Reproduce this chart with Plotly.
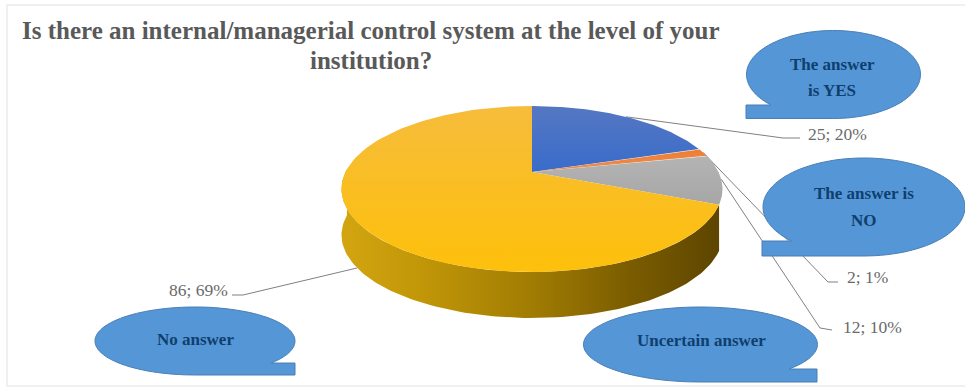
import numpy as np
import plotly.graph_objects as go

# Survey answers
categories = ["The answer is YES", "The answer is NO", "Uncertain answer", "No answer"]
counts = [25, 2, 12, 86]
point_labels = ["25; 20%", "2; 1%", "12; 10%", "86; 69%"]
title_lines = ["Is there an internal/managerial control system at the level of your", "institution?"]

TEXT_GREY = "#595959"
NAVY = "#0f3f6e"
CALLOUT = "#5596d6"
CALLOUT_EDGE = "#4a7fb5"
SERIF = "Liberation Serif"

# Perspective projection of the pie disc onto the page
CX, CY = 532.0, 189.0
APEX, RX, RY, TILT = 17.0, 186.5, 83.0, 0.2048
DEPTH = 46.0


def project(theta_deg, radius=1.0, drop=0.0):
    t = np.radians(theta_deg)
    w = 1 + TILT * radius * np.cos(t)
    x = CX + RX * radius * np.sin(t) / w
    y = CY - (APEX + RY * radius * np.cos(t)) / w + drop
    return x, y


def sweep(a, b, n=120):
    return np.linspace(a, b, n)


total = sum(counts)
edges = np.concatenate([[0], np.cumsum(counts)]) * 360.0 / total
mids = (edges[:-1] + edges[1:]) / 2

fig = go.Figure()

# Frame around the chart area
fig.add_shape(type="rect", x0=7, y0=5, x1=975, y1=386,
              line=dict(color="#ececec", width=1.5), fillcolor="white", layer="below")

# Leader lines, from each slice rim out to its label
knots = [
    ([783, 800], [138, 138], 0),
    ([828, 838], [282, 282], 0),
    ([820, 832], [328, 330], 0),
    ([243, 232], [295, 295], DEPTH),
]
for mid, (kx, ky, drop) in zip(mids, knots):
    sx, sy = project(mid, drop=drop)
    fig.add_trace(go.Scatter(x=[float(sx)] + kx, y=[float(sy)] + ky, mode="lines",
                             line=dict(color="#808080", width=1), hoverinfo="skip"))

# Side wall of the disc, visible below the large slice
wall = sweep(edges[3], 272)
wx, wy = project(wall)
bx, by = project(wall[::-1], drop=DEPTH)
fig.add_trace(go.Scatter(
    x=np.concatenate([wx, bx]), y=np.concatenate([wy, by]),
    mode="lines", fill="toself", line=dict(width=0), hoverinfo="skip",
    fillgradient=dict(type="horizontal", start=342, stop=723, colorscale=[
        [0.0, "#d2a510"], [0.2, "#c29708"], [0.5, "#a17c03"],
        [0.75, "#7b5d00"], [1.0, "#5c4400"]])))

# Top face slices
face_scales = [
    [[0, "#5577c2"], [1, "#396ccb"]],
    [[0, "#ed7d31"], [1, "#ed8f55"]],
    [[0, "#b4b4b4"], [1, "#a6a6a6"]],
    [[0, "#f6bc3c"], [0.5, "#fabe22"], [1, "#fdc00b"]],
]
ax, ay = project(0, radius=0)
for i, scale in enumerate(face_scales):
    rx, ry = project(sweep(edges[i], edges[i + 1]))
    ys = np.concatenate([[ay], ry])
    fig.add_trace(go.Scatter(
        x=np.concatenate([[ax], rx, [ax]]), y=np.concatenate([ys, [ay]]),
        mode="lines", fill="toself", line=dict(width=0), hoverinfo="skip",
        name=categories[i],
        fillgradient=dict(type="vertical", start=float(ys.min()), stop=float(ys.max()),
                          colorscale=scale)))


def callout_path(cx, cy, rx, ry, tail_x, tail_top):
    """Ellipse with a flat rectangular tail along its lower edge."""
    side = 1 if tail_x > cx else -1
    start = np.arcsin((tail_top - cy) / ry)
    if side > 0:
        ts = np.linspace(start, start - 2 * np.pi + (np.pi / 2 - start), 100)
    else:
        ts = np.linspace(np.pi - start, np.pi - start + 2 * np.pi - (np.pi / 2 - start), 100)
    px = cx + rx * np.cos(ts)
    py = cy + ry * np.sin(ts)
    pts = [f"{a:.1f},{b:.1f}" for a, b in zip(px, py)]
    pts += [f"{tail_x},{cy + ry:.1f}", f"{tail_x},{tail_top}"]
    return "M" + " L".join(pts) + " Z"


callouts = [
    (833.5, 74.5, 87, 44, 746, 105),
    (864, 207, 101, 49, 762, 241),
    (700.5, 344.5, 117, 37.5, 817, 369),
    (195, 341, 100, 34, 295, 363),
]
for c in callouts:
    fig.add_shape(type="path", path=callout_path(*c), fillcolor=CALLOUT,
                  line=dict(color=CALLOUT_EDGE, width=1), layer="above")


def put_text(text, x, y, size, color, bold=False):
    fig.add_annotation(x=x, y=y, text=f"<b>{text}</b>" if bold else text, showarrow=False,
                       font=dict(family=SERIF, size=size, color=color),
                       xanchor="center", yanchor="middle")


put_text(title_lines[0], 371, 30, 25, TEXT_GREY, bold=True)
put_text(title_lines[1], 371, 60, 25, TEXT_GREY, bold=True)

put_text("The answer", 832, 64, 17, NAVY, bold=True)
put_text("is YES", 832, 90, 17, NAVY, bold=True)
put_text("The answer is", 864, 193, 17, NAVY, bold=True)
put_text("NO", 864, 220, 17, NAVY, bold=True)
put_text(categories[2], 701, 340, 17, NAVY, bold=True)
put_text(categories[3], 195, 339, 17, NAVY, bold=True)

for label, x, y in zip(point_labels, [837, 867, 872, 198], [134, 277, 327, 290]):
    put_text(label, x, y, 17.5, "#6a6a6a")

fig.update_layout(
    width=965, height=389, margin=dict(l=0, r=0, t=0, b=0),
    paper_bgcolor="white", plot_bgcolor="white", showlegend=False,
    xaxis=dict(range=[0, 965], visible=False, fixedrange=True),
    yaxis=dict(range=[389, 0], visible=False, fixedrange=True),
)
fig.write_html("out.html", config={"displayModeBar": False})
